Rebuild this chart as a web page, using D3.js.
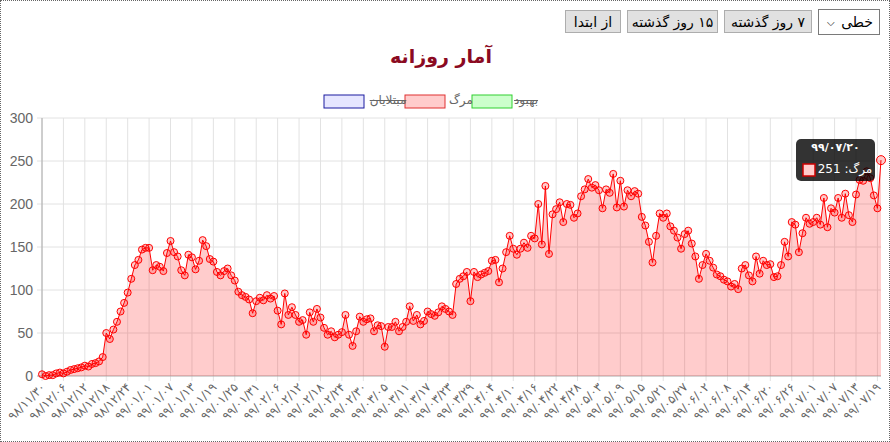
<!DOCTYPE html>
<html><head><meta charset="utf-8">
<script src="https://cdn.jsdelivr.net/npm/d3@7"></script>
<style>
body{margin:0;font-family:"DejaVu Sans",sans-serif;}
#wrap{position:relative;width:888px;height:440px;border:1px dotted #666;}
.btn{position:absolute;top:9px;height:23px;background:#e1e1e1;border:1px solid #adadad;font-size:14px;line-height:22px;text-align:center;direction:rtl;box-sizing:border-box;}
.lab{position:absolute;text-align:center;white-space:nowrap;direction:rtl;}
</style></head><body>
<div id="wrap">
<svg id="chart" width="888" height="440" style="position:absolute;left:0;top:0"></svg>
<div class="btn" style="left:817px;width:62px;top:8px;height:26px;background:#fff;border-color:#7a7a7a;line-height:25px;"><span style="position:absolute;right:6px;">خطی</span><span style="position:absolute;left:8px;font-size:10px;">⌵</span></div>
<div class="btn" style="left:723px;width:88px;">۷ روز گذشته</div>
<div class="btn" style="left:626px;width:91px;">۱۵ روز گذشته</div>
<div class="btn" style="left:564px;width:56px;">از ابتدا</div>
</div>
<script>
const deaths = [2,0,1,1,3,4,3,5,7,8,9,10,12,11,14,15,17,22,
50,43,54,63,75,85,97,113,129,135,147,149,149,123,129,127,122,143,157,144,139,123,117,141,138,124,134,158,151,136,133,121,117,122,125,117,111,98,94,92,89,73,87,91,88,94,90,93,76,60,96,71,80,71,63,
65,48,74,63,78,68,56,48,52,45,48,51,71,48,35,52,69,63,66,67,52,59,58,34,57,57,63,52,57,63,81,64,71,60,64,75,72,70,74,81,78,75,71,107,113,116,121,87,121,115,118,
120,122,134,135,109,125,144,163,148,141,148,155,149,163,160,200,153,221,142,188,194,202,179,200,199,184,189,209,217,229,219,222,216,195,217,213,235,196,227,197,216,209,215,212,
185,175,156,132,163,189,184,189,174,169,161,148,165,169,154,139,113,129,142,134,126,118,116,112,110,104,107,101,125,129,117,110,139,119,134,129,130,115,116,129,156,139,179,176,144,166,184,177,179,184,176,207,173,195,190,207,184,212,187,179,211,228,227,238,230,210,195,251];
const yTicks = [0,50,100,150,200,250,300];
const legendItems = [{name:"مبتلایان",fill:"#e6e6ff",stroke:"#1a1aa0",hidden:true},{name:"مرگ",fill:"#ffcccc",stroke:"#e03030",hidden:false},{name:"بهبود",fill:"#ccffcc",stroke:"#30d030",hidden:true}];
const title = "آمار روزانه";
const monthLen = {"98":{11:30,12:29},"99":{1:31,2:31,3:31,4:31,5:31,6:31,7:30}};
const fa = s => s.replace(/\d/g,d=>"۰۱۲۳۴۵۶۷۸۹"[d]);
const dates=[]; {let y="98",m=11,d=30; for(let i=0;i<deaths.length;i++){dates.push(`${y}/${String(m).padStart(2,"0")}/${String(d).padStart(2,"0")}`); d++; if(d>monthLen[y][m]){d=1;m++; if(m>12){m=1;y="99";}}}}

const svg=d3.select("#chart"), wrap=d3.select("#wrap");
const L=41,R=880,T=117,B=375;
const x=d3.scaleLinear().domain([0,deaths.length-1]).range([L,R]);
const y=d3.scaleLinear().domain([0,300]).range([B,T]);
const tickIdx=d3.range(0,deaths.length,6);
const g=svg.append("g");
g.selectAll(".vg").data(tickIdx).join("line").attr("x1",d=>x(d)).attr("x2",d=>x(d)).attr("y1",T).attr("y2",B+5).attr("stroke","#e2e2e2");
g.selectAll(".hg").data(yTicks).join("line").attr("x1",L-5).attr("x2",R).attr("y1",d=>y(d)).attr("y2",d=>y(d)).attr("stroke",d=>d===0?"#aaa":"#e2e2e2");
g.append("line").attr("x1",L).attr("x2",L).attr("y1",T).attr("y2",B).attr("stroke","#aaa");
g.selectAll(".yl").data(yTicks).join("text").attr("x",L-9).attr("y",d=>y(d)+5).attr("text-anchor","end").attr("font-size",14).attr("fill","#666").attr("font-family","Arial, Liberation Sans").text(d=>d);
g.selectAll(".xl").data(tickIdx).join("text").attr("transform",d=>`translate(${x(d)+4},${B+12}) rotate(-45)`).attr("text-anchor","end").attr("font-size",12).attr("fill","#666").text(d=>fa(dates[d]));
const area=d3.area().x((d,i)=>x(i)).y0(B).y1(d=>y(d));
svg.append("path").datum(deaths).attr("d",area).attr("fill","rgba(255,0,0,0.2)");
svg.append("path").datum(deaths).attr("d",d3.line().x((d,i)=>x(i)).y(d=>y(d))).attr("fill","none").attr("stroke","#f00").attr("stroke-width",1);
svg.selectAll(".pt").data(deaths).join("circle").attr("cx",(d,i)=>x(i)).attr("cy",d=>y(d)).attr("r",(d,i)=>i===deaths.length-1?4.5:3.5).attr("fill","rgba(255,0,0,0.2)").attr("stroke","#f00").attr("stroke-width",1);
wrap.append("div").attr("class","lab").style("left","340px").style("width","200px").style("top","44px").style("font-size","19px").style("font-weight","bold").style("color","#8b0a22").text(title);
const lx=[323,404,471], tc=[387,460,525];
legendItems.forEach((it,i)=>{
 svg.append("rect").attr("x",lx[i]).attr("y",94).attr("width",40).attr("height",13).attr("fill",it.fill).attr("stroke",it.stroke);
 wrap.append("div").attr("class","lab").style("left",(tc[i]-25)+"px").style("width","50px").style("top","92px").style("font-size","12px").style("color","#666").style("text-decoration",it.hidden?"line-through":"none").text(it.name);
});
const last=deaths.length-1;
const tg=svg.append("g").attr("transform",`translate(795,138)`);
tg.append("rect").attr("width",79).attr("height",42).attr("rx",5).attr("fill","rgba(0,0,0,0.8)");
wrap.append("div").attr("class","lab").style("left","795px").style("width","79px").style("top","140px").style("font-size","11px").style("font-weight","bold").style("color","#fff").style("direction","ltr").text(fa(dates[last]));
tg.append("rect").attr("x",7).attr("y",25).attr("width",12).attr("height",12).attr("fill","#ffcccc").attr("stroke","#c00").attr("stroke-width",1.5);
wrap.append("div").attr("class","lab").style("left","816px").style("width","56px").style("top","161px").style("font-size","12px").style("color","#fff").text("مرگ: "+deaths[last]);
</script></body></html>
